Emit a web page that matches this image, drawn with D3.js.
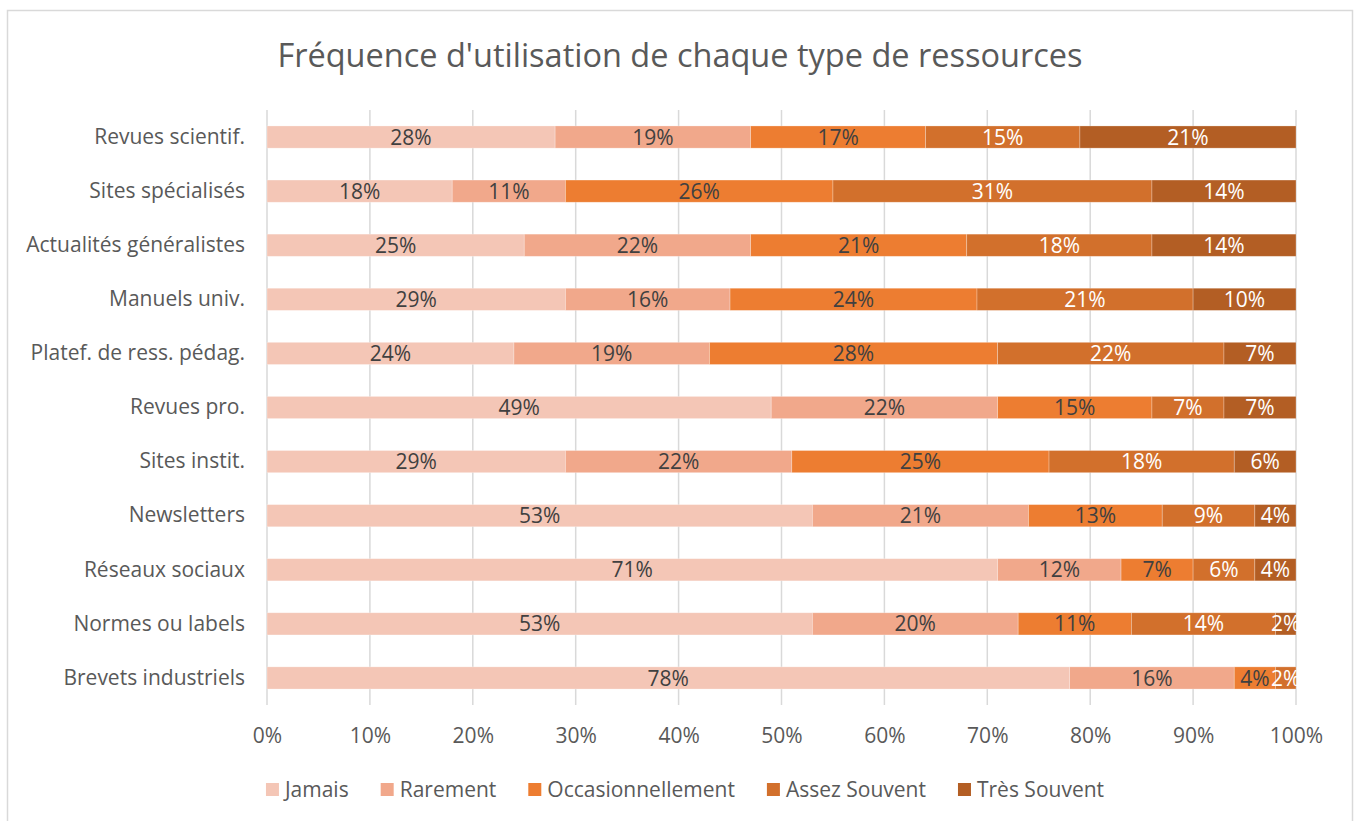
<!DOCTYPE html>
<html>
<head>
<meta charset="utf-8">
<script src="https://cdn.jsdelivr.net/npm/d3@7"></script>
<style>
  body { margin: 0; background: #fff; }
  text { font-family: "Open Sans", sans-serif; }
</style>
</head>
<body>
<script>
// categories, top to bottom
const categories = ["Revues scientif.", "Sites spécialisés", "Actualités généralistes", "Manuels univ.",
  "Platef. de ress. pédag.", "Revues pro.", "Sites instit.", "Newsletters", "Réseaux sociaux",
  "Normes ou labels", "Brevets industriels"];

const seriesNames = ["Jamais", "Rarement", "Occasionnellement", "Assez Souvent", "Très Souvent"];

// values in % per series, same order as categories
const jamais = [28, 18, 25, 29, 24, 49, 29, 53, 71, 53, 78];
const rarement = [19, 11, 22, 16, 19, 22, 22, 21, 12, 20, 16];
const occasionnellement = [17, 26, 21, 24, 28, 15, 25, 13, 7, 11, 4];
const assezSouvent = [15, 31, 18, 21, 22, 7, 18, 9, 6, 14, 2];
const tresSouvent = [21, 14, 14, 10, 7, 7, 6, 4, 4, 2, 0];

const xTicks = [0, 0.1, 0.2, 0.3, 0.4, 0.5, 0.6, 0.7, 0.8, 0.9, 1];

const colors = ["#F4C6B6", "#F1A88B", "#ED7D31", "#D2702C", "#B35E24"];
const labelColors = ["#404040", "#404040", "#404040", "#ffffff", "#ffffff"];

const W = 1356, H = 821;
const fs = "21px";

const svg = d3.select("body").append("svg")
  .attr("width", W)
  .attr("height", H);

//chart border
svg.append("rect")
  .attr("x", 7.5).attr("y", 10.5)
  .attr("width", 1345).attr("height", 830)
  .attr("fill", "#fff")
  .attr("stroke", "#d9d9d9")
  .attr("stroke-width", 1.5);

//title
svg.append("text")
  .attr("x", 680).attr("y", 67)
  .attr("text-anchor", "middle")
  .attr("font-size", "32.5px")
  .attr("fill", "#595959")
  .text("Fréquence d'utilisation de chaque type de ressources");

//build table rows
const table = categories.map((c, i) => ({
  cat: c,
  Jamais: jamais[i],
  Rarement: rarement[i],
  Occasionnellement: occasionnellement[i],
  "Assez Souvent": assezSouvent[i],
  "Très Souvent": tresSouvent[i]
}));

const stacked = d3.stack().keys(seriesNames)(table);

const x = d3.scaleLinear().domain([0, 100]).range([267, 1296]);
const y = d3.scaleBand()
  .domain(categories)
  .range([110, 705])
  .paddingInner(0.59)
  .paddingOuter(0.295);

//gridlines
svg.append("g")
  .selectAll("line")
  .data(xTicks)
  .enter()
  .append("line")
    .attr("x1", d => x(d * 100)).attr("x2", d => x(d * 100))
    .attr("y1", 110).attr("y2", 705)
    .attr("stroke", "#d9d9d9")
    .attr("stroke-width", 1.5);

//x axis labels
const xAxis = svg.append("g")
  .attr("transform", "translate(0,718)")
  .call(d3.axisBottom(x).tickValues(xTicks.map(d => d * 100)).tickFormat(d => d + "%").tickSize(0));
xAxis.select(".domain").remove();
xAxis.selectAll("text")
  .attr("font-family", "Open Sans")
  .attr("font-size", fs)
  .attr("fill", "#595959")
  .attr("dy", null)
  .attr("y", 25);

//y axis labels
const yAxis = svg.append("g")
  .attr("transform", "translate(245,0)")
  .call(d3.axisLeft(y).tickSize(0).tickPadding(0));
yAxis.select(".domain").remove();
yAxis.selectAll("text")
  .attr("font-family", "Open Sans")
  .attr("font-size", fs)
  .attr("fill", "#595959");

//bars
const layers = svg.append("g")
  .selectAll("g")
  .data(stacked)
  .enter()
  .append("g")
    .attr("fill", (d, i) => colors[i]);

layers.selectAll("rect")
  .data(d => d.filter(p => p[1] - p[0] > 0))
  .enter()
  .append("rect")
    .attr("x", d => x(d[0]))
    .attr("y", d => y(d.data.cat))
    .attr("width", d => x(d[1]) - x(d[0]))
    .attr("height", y.bandwidth())
    .attr("stroke", "#fff")
    .attr("stroke-opacity", 0.35)
    .attr("stroke-width", 0.75);

//data labels
layers.each(function(s, i) {
  d3.select(this).selectAll("text")
    .data(s.filter(p => p[1] - p[0] > 0))
    .enter()
    .append("text")
      .attr("x", d => (x(d[0]) + x(d[1])) / 2)
      .attr("y", d => y(d.data.cat) + y.bandwidth() / 2)
      .attr("dy", "0.36em")
      .attr("text-anchor", "middle")
      .attr("font-size", fs)
      .attr("fill", labelColors[i])
      .text(d => (d[1] - d[0]) + "%");
});

//legend
const legend = svg.append("g");
const items = legend.selectAll("g")
  .data(seriesNames)
  .enter()
  .append("g");
items.append("rect")
  .attr("width", 13).attr("height", 13)
  .attr("y", -14)
  .attr("fill", (d, i) => colors[i]);
items.append("text")
  .attr("x", 19)
  .attr("font-size", fs)
  .attr("fill", "#595959")
  .text(d => d);

let offset = 0;
const positions = [];
items.each(function() {
  positions.push(offset);
  offset += 19 + this.querySelector("text").getComputedTextLength() + 32;
});
const totalW = offset - 32;
const startX = 685 - totalW / 2;
items.attr("transform", (d, i) => "translate(" + (startX + positions[i]) + ",797)");
</script>
</body>
</html>
